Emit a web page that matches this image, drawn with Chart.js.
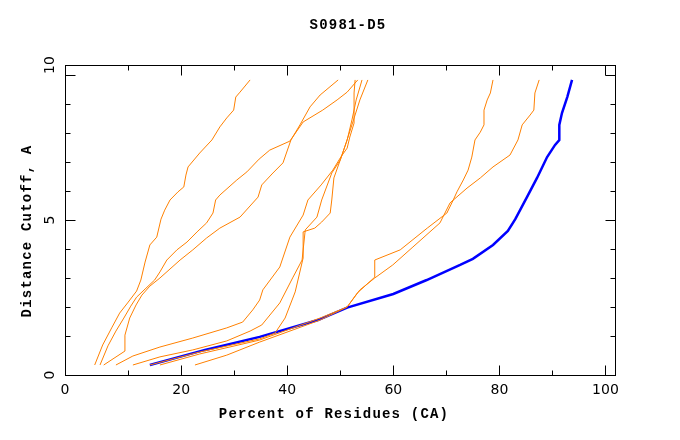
<!DOCTYPE html>
<html>
<head>
<meta charset="utf-8">
<script src="https://cdn.jsdelivr.net/npm/chart.js@4"></script>
<style>
  body { margin: 0; background: #fff; }
  #wrap { width: 680px; height: 440px; }
</style>
</head>
<body>
<div id="wrap"><canvas id="myChart" width="680" height="440"></canvas></div>
<script>
// [percent of residues, distance cutoff]
const modelA = [[3.7,0],[5.2,0.69],[6.9,1.28],[8.4,1.79],[9.9,2.14],[11.6,2.55],[12.4,2.93],[13.2,3.55],[14.1,4.14],[15.4,4.41],[16.2,5.03],[16.9,5.34],[17.9,5.69],[19.4,5.97],[20.5,6.14],[20.9,6.55],[21.3,6.83],[23.5,7.31],[25.8,7.76],[27.3,8.21],[28.6,8.52],[29.9,8.79],[30.3,9.24],[31.1,9.41],[33.0,9.83]];
const modelB = [[5.4,0],[9.4,0.48],[9.4,1.03],[10.3,1.62],[11.5,2.07],[12.6,2.41],[14.1,2.72],[16.0,3.00],[19.8,3.62],[22.2,3.97],[24.8,4.38],[27.3,4.72],[31.1,5.10],[34.5,5.79],[35.2,6.21],[37.3,6.62],[39.2,6.97],[40.7,7.76],[42.4,8.28],[44.3,8.90],[46.2,9.31],[49.6,9.83]];
const modelC = [[4.7,0],[6.2,0.66],[7.7,1.17],[9.2,1.62],[10.5,2.03],[11.6,2.34],[13.2,2.62],[15.0,2.93],[16.0,3.21],[17.3,3.62],[19.2,3.97],[21.1,4.24],[23.0,4.59],[24.8,4.90],[26.0,5.24],[26.5,5.69],[27.3,5.86],[30.5,6.38],[32.4,6.66],[34.7,7.10],[36.7,7.41],[40.5,7.72],[43.0,8.38],[46.7,8.79],[49.4,9.14],[51.3,9.41],[53.3,9.83]];
const modelD = [[7.7,0],[10.9,0.31],[16.0,0.62],[22.2,0.93],[28.6,1.28],[31.6,1.48],[33.5,1.90],[34.8,2.24],[35.4,2.59],[38.6,3.38],[40.5,4.41],[43.0,5.17],[43.9,5.69],[46.4,6.21],[48.6,6.72],[50.1,7.17],[51.3,7.48],[51.8,7.86],[52.6,8.34],[52.6,9.38],[52.8,9.83]];
const modelE = [[10.9,0],[16.0,0.28],[22.2,0.52],[28.6,0.83],[33.0,1.17],[35.2,1.38],[38.6,2.14],[41.1,3.03],[42.8,3.62],[43.4,4.66],[45.6,5.10],[46.5,5.69],[48.4,6.62],[50.0,7.07],[51.3,7.76],[52.2,8.45],[53.0,9.14],[54.1,9.83]];
const modelF = [[14.1,0],[23.5,0.45],[34.8,0.90],[37.7,1.10],[39.6,1.62],[41.5,2.52],[43.0,3.69],[43.0,4.59],[45.2,4.72],[46.5,4.93],[48.1,5.24],[48.4,5.69],[48.8,6.45],[50.0,7.07],[51.1,7.66],[52.2,8.28],[53.7,9.14],[55.2,9.83]];
const modelG = [[16.0,0],[23.5,0.38],[34.8,0.86],[41.1,1.28],[46.2,1.62],[51.3,2.00],[53.2,2.48],[56.5,3.03],[56.5,3.62],[61.3,3.97],[66.4,4.72],[70.1,5.24],[71.3,5.69],[72.0,5.97],[73.2,6.38],[74.1,6.72],[74.8,7.17],[75.4,7.76],[76.4,8.03],[77.1,8.28],[77.1,8.79],[77.7,9.14],[78.3,9.38],[78.8,9.83]];
const modelH = [[22.6,0],[28.6,0.34],[34.8,0.79],[41.1,1.21],[46.2,1.55],[51.3,2.00],[53.7,2.59],[56.5,3.00],[59.9,3.45],[63.7,4.07],[68.8,4.90],[70.7,5.59],[73.9,6.10],[76.4,6.45],[78.8,6.83],[82.0,7.24],[83.5,7.76],[84.3,8.28],[85.8,8.62],[86.5,8.79],[86.7,9.38],[87.5,9.83]];
const target = [[14.1,0],[24.5,0.52],[34.8,0.97],[45.8,1.55],[51.3,1.98],[60.0,2.45],[66.3,2.93],[72.6,3.45],[75.0,3.66],[78.8,4.14],[81.6,4.62],[83.0,5.03],[85.2,5.79],[87.1,6.45],[89.0,7.17],[90.5,7.59],[91.3,7.76],[91.3,8.28],[91.8,8.69],[92.8,9.24],[93.7,9.83]];

const otherModels = [modelA, modelB, modelC, modelD, modelE, modelF, modelG, modelH];

const xTicks = [10, 20, 30, 40, 50, 60, 70, 80, 90, 100];
const xMajor = [20, 40, 60, 80, 100];
const xLabels = ['0', '20', '40', '60', '80', '100'];
const yTicks = [1, 2, 3, 4, 5, 6, 7, 8, 9, 10];
const yMajor = [5, 10];
const yLabels = ['0', '5', '10'];

const titleText = 'S0981-D5';
const xTitle = 'Percent of Residues (CA)';
const yTitle = 'Distance Cutoff, A';

function toPoints(arr) {
    return arr.map(p => ({ x: p[0], y: p[1] }));
}

let datasets = otherModels.map(m => ({
    data: toPoints(m),
    borderColor: '#ff8000',
    borderWidth: 1,
    pointRadius: 0,
    showLine: true,
    tension: 0
}));
datasets.push({
    data: toPoints(target),
    borderColor: '#0000ff',
    borderWidth: 2.5,
    pointRadius: 0,
    showLine: true,
    tension: 0
});

// border, inward ticks on all four sides, labels and titles
const framePlugin = {
    id: 'frame',
    afterDraw(chart) {
        const ctx = chart.ctx;
        const a = chart.chartArea;
        const x = chart.scales.x, y = chart.scales.y;
        const L = Math.round(a.left) + 0.5, R = Math.round(a.right) + 0.5;
        const T = Math.round(a.top) + 0.5, B = Math.round(a.bottom) + 0.5;
        ctx.save();
        ctx.strokeStyle = '#000';
        ctx.lineWidth = 1;
        ctx.strokeRect(L, T, R - L, B - T);

        ctx.beginPath();
        xTicks.forEach(v => {
            const px = Math.round(x.getPixelForValue(v)) + 0.5;
            const len = xMajor.includes(v) ? 10 : 5;
            ctx.moveTo(px, B); ctx.lineTo(px, B - len);
            ctx.moveTo(px, T); ctx.lineTo(px, T + len);
        });
        yTicks.forEach(v => {
            const py = Math.round(y.getPixelForValue(v)) + 0.5;
            const len = yMajor.includes(v) ? 10 : 5;
            ctx.moveTo(L, py); ctx.lineTo(L + len, py);
            ctx.moveTo(R, py); ctx.lineTo(R - len, py);
        });
        ctx.stroke();

        ctx.fillStyle = '#000';
        ctx.textAlign = 'center';
        ctx.textBaseline = 'middle';
        ctx.font = '14px "DejaVu Sans"';
        xLabels.forEach(t => {
            const v = Number(t);
            const px = v === 0 ? a.left : x.getPixelForValue(v);
            ctx.fillText(t, px, a.bottom + 15);
        });
        yLabels.forEach(t => {
            const v = Number(t);
            let py = y.getPixelForValue(v);
            if (v === 0) py = a.bottom;
            if (v === 10) py = a.top;
            ctx.save();
            ctx.translate(a.left - 15, py);
            ctx.rotate(-Math.PI / 2);
            ctx.fillText(t, 0, 0);
            ctx.restore();
        });

        ctx.font = 'bold 14px "Liberation Mono"';
        ctx.letterSpacing = '1.2px';
        ctx.fillText(titleText, 348, 25);
        ctx.fillText(xTitle, 334, 414);
        ctx.save();
        ctx.translate(27, 231);
        ctx.rotate(-Math.PI / 2);
        ctx.fillText(yTitle, 0, 0);
        ctx.restore();
        ctx.restore();
    }
};

let canvas = document.getElementById('myChart');
var myChart = new Chart(canvas, {
    type: 'scatter',
    data: { datasets: datasets },
    options: {
        responsive: false,
        animation: false,
        layout: { padding: { left: 65, right: 65, top: 65, bottom: 65 } },
        plugins: {
            legend: { display: false },
            tooltip: { enabled: false }
        },
        scales: {
            x: { type: 'linear', min: -1.9, max: 101.8, display: false },
            y: { type: 'linear', min: -0.345, max: 10.345, display: false }
        }
    },
    plugins: [framePlugin]
});
</script>
</body>
</html>
